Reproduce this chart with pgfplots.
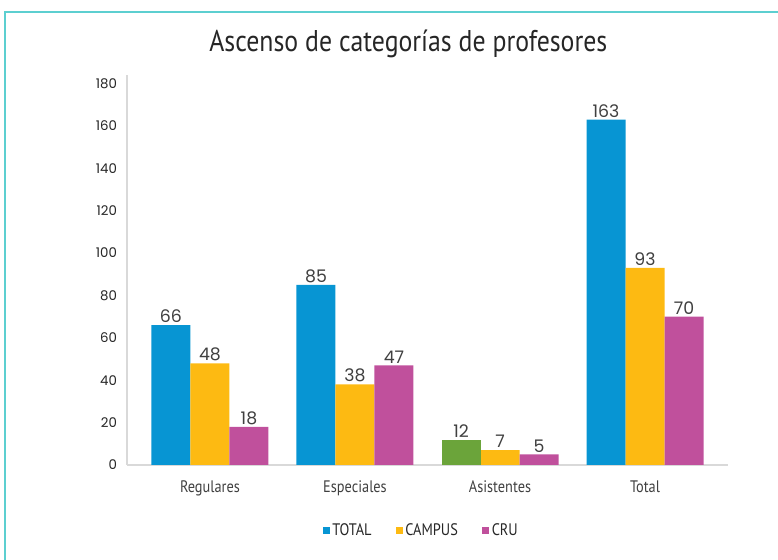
\documentclass[border=0pt]{standalone}
\usepackage{fontspec}
\setmainfont{PT Sans}
\newfontfamily\narrowfont[FakeStretch=0.86]{PT Sans}
\newfontfamily\numfont{Poppins}
\usepackage{pgfplots}
\pgfplotsset{compat=1.18}

\definecolor{cTotal}{HTML}{0795D3}
\definecolor{cCampus}{HTML}{FDBA12}
\definecolor{cCru}{HTML}{C0509C}
\definecolor{cGreen}{HTML}{6BA43A}
\definecolor{cFrame}{HTML}{5CCFD0}
\definecolor{cAxis}{HTML}{D9D9D9}
\definecolor{cText}{HTML}{404040}

\begin{document}
\begin{tikzpicture}[x=1pt,y=1pt]
% picture is 778x560 px, 1px = 0.75pt; axis box lower left at (0,0)
\path[use as bounding box] (-95.25,-71.25) rectangle (488.25,348.75);
\draw[cFrame, line width=1.1pt] (-91.5,-75) -- (-91.5,339.75) -- (492,339.75);
\node[font=\narrowfont\fontsize{22.5}{25}\selectfont, text=black!85] at (211,316) {Ascenso de categorías de profesores};

\begin{axis}[
  at={(0,0)}, anchor=south west,
  scale only axis,
  width=450.75pt, height=292.5pt,
  ybar, bar width=29.25pt,
  xmin=-0.572, xmax=3.572,
  ymin=0, ymax=184,
  xtick={0,1,2,3},
  xticklabels={Regulares,Especiales,Asistentes,Total},
  ytick={0,20,...,180},
  major tick length=0pt,
  axis x line*=bottom, axis y line*=left,
  axis line style={cAxis, line width=0.8pt},
  x axis line style={-}, y axis line style={-},
  /pgf/number format/assume math mode=true,
  yticklabel style={font=\numfont\fontsize{10}{12}\selectfont, text=black!85, xshift=-4pt},
  xticklabel style={font=\narrowfont\fontsize{12.5}{14}\selectfont, text=cText, yshift=-8pt},
  nodes near coords,
  every node near coord/.append style={font=\numfont\fontsize{13}{15}\selectfont, text=cText, inner sep=1.5pt},
  legend style={at={(0.49,-0.167)}, anchor=center, draw=none,
    legend columns=3, font=\narrowfont\fontsize{12.5}{14}\selectfont, text=black!85,
    /tikz/every even column/.append style={column sep=16pt}},
  legend image code/.code={\fill[#1] (0pt,-2.7pt) rectangle (5.4pt,2.7pt);},
]
\addplot[fill=cTotal, draw=none, bar shift=-29.25pt] coordinates {(0,66) (1,85) (3,163)};
\addplot[fill=cCampus, draw=none, bar shift=0pt] coordinates {(0,48) (1,38) (2,7) (3,93)};
\addplot[fill=cCru, draw=none, bar shift=29.25pt] coordinates {(0,18) (1,47) (2,5) (3,70)};
\addplot[fill=cGreen, draw=none, bar shift=-29.25pt, forget plot] coordinates {(2,12)};
\legend{TOTAL,CAMPUS,CRU}
\end{axis}
\end{tikzpicture}
\end{document}
